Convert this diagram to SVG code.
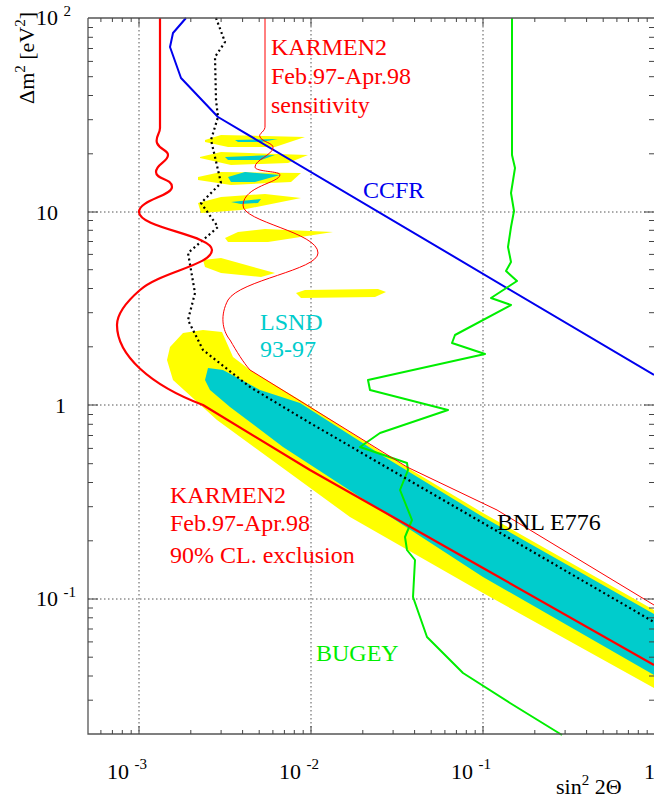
<svg xmlns="http://www.w3.org/2000/svg" width="654" height="800" viewBox="0 0 654 800">
<style>
text{font-family:"Liberation Serif","DejaVu Serif","Times New Roman",serif}
.t{font-size:24px}
.ax{font-size:22px;fill:#000}
.sup{font-size:15px}
.grid{stroke:#555;stroke-width:1;stroke-dasharray:1.5 2.5;fill:none}
.tk{stroke:#444;stroke-width:1}
.c{fill:none;stroke-linejoin:round}
</style>
<rect width="654" height="800" fill="#fff"/>
<g id="grid">
<path class="grid" d="M139 18V734M311 18V734M483 18V734M88 212H654M88 405H654M88 599H654"/>
</g>
<g id="lsnd">
<path fill="#ffff00" d="M170 347L183 333L203 330L222 332L233 357L250 370L300 400L383 453L483 513L654 610L654 688L483 593L350 517L217 420L173 380L167 360Z"/>
<path fill="#00cccc" d="M208 368L223 370L260 390L300 403L383 456L483 517L654 614L654 675L483 577L283 447L230 407L210 390L205 380Z"/>
<path fill="#ffff00" d="M205 140L221 135L305 137L275 147L228 147L205 142Z"/>
<path fill="#00cccc" d="M235 140L278 139L261 142L238 142Z"/>
<path fill="#ffff00" d="M200 157L221 152L308 155L288 163L231 165L200 158Z"/>
<path fill="#00cccc" d="M225 157L275 155L261 160L228 160Z"/>
<path fill="#ffff00" d="M198 177L221 172L301 173L291 182L231 185L198 180Z"/>
<path fill="#00cccc" d="M228 177L245 172L280 175L255 182L231 182Z"/>
<path fill="#ffff00" d="M198 203L221 197L265 194L301 198L241 210L201 213Z"/>
<path fill="#00cccc" d="M231 202L261 199L258 203L241 204Z"/>
<path fill="#ffff00" d="M225 238L238 232L265 229L333 232L268 242L228 242Z"/>
<path fill="#ffff00" d="M203 260L221 258L275 273L261 277L221 273L205 267Z"/>
<path fill="#ffff00" d="M296 293L305 290L378 289L386 292L375 297L301 298Z"/>
</g>
<g id="curves">
<path id="ccfr" class="c" stroke="#0000ee" stroke-width="2" d="M186 18L173 33L170 47L181 78L218 117L654 375"/>
<path id="bugey" class="c" stroke="#00ee00" stroke-width="2" d="M512 18L512 155L515 168L511 193L514 211L511 227L508 247L511 262L506 271L517 281L491 298L511 305L455 335L452 343L485 354L368 380L370 390L448 410L380 433L360 447L407 463L408 470L400 490L412 520L405 537L407 550L415 560L413 597L427 637L463 673L510 703L562 735"/>
<path id="bnl" class="c" stroke="#000" stroke-width="2.2" stroke-dasharray="2 3" d="M216 18L225 42L215 57L216 100L218 117L211 140L215 157L221 183L201 203L218 227L188 253L195 293L188 320L203 350L250 387L310 423L483 523L654 622"/>
<path id="sens" class="c" stroke="#ff0000" stroke-width="1" d="M265 18L265 125C266 132 258 133 260 137C262 142 274 143 273 148C272 155 255 160 255 167C255 172 281 171 280 175C279 183 244 186 243 205C242 222 318 232 318 253C318 270 240 280 228 300C220 315 222 330 230 340C237 352 243 362 250 370L407 467L497 510L654 605"/>
<path id="excl" class="c" stroke="#ff0000" stroke-width="2.2" d="M160 18L160 128C160 134 155 137 157 143C160 150 168 150 168 155C168 162 156 164 156 172C156 180 172 178 172 187C172 196 139 200 139 212C139 228 212 235 212 250C212 265 160 272 140 290C125 303 117 315 117 325C117 355 150 385 203 405L310 470L483 568L654 665"/>
</g>
<g id="axes">
<path fill="none" stroke="#555" stroke-width="1.3" d="M88 18H654M88 18V734H654"/>
<path class="tk" d="M139 734v-8M311 734v-8M483 734v-8M139 18v8M311 18v8M483 18v8M88 212h10M88 405h10M88 599h10M654 212h-10M654 405h-10M654 599h-10"/>
<path class="tk" d="M100.9 734v-4M112.4 734v-4M122.3 734v-4M131.2 734v-4M190.8 734v-4M221.1 734v-4M242.6 734v-4M259.2 734v-4M272.9 734v-4M284.4 734v-4M294.3 734v-4M303.2 734v-4M362.8 734v-4M393.1 734v-4M414.6 734v-4M431.2 734v-4M444.9 734v-4M456.4 734v-4M466.3 734v-4M475.2 734v-4M534.8 734v-4M565.1 734v-4M586.6 734v-4M603.2 734v-4M616.9 734v-4M628.4 734v-4M638.3 734v-4M647.2 734v-4
M100.9 18v4M112.4 18v4M122.3 18v4M131.2 18v4M190.8 18v4M221.1 18v4M242.6 18v4M259.2 18v4M272.9 18v4M284.4 18v4M294.3 18v4M303.2 18v4M362.8 18v4M393.1 18v4M414.6 18v4M431.2 18v4M444.9 18v4M456.4 18v4M466.3 18v4M475.2 18v4M534.8 18v4M565.1 18v4M586.6 18v4M603.2 18v4M616.9 18v4M628.4 18v4M638.3 18v4M647.2 18v4"/>
<path class="tk" d="M88 27.5h5M88 37.3h5M88 48.5h5M88 61.4h5M88 76.7h5M88 95.5h5M88 119.7h5M88 153.8h5M88 220.5h5M88 230.3h5M88 241.5h5M88 254.4h5M88 269.7h5M88 288.5h5M88 312.7h5M88 346.8h5M88 414.5h5M88 424.3h5M88 435.5h5M88 448.4h5M88 463.7h5M88 482.5h5M88 506.7h5M88 540.8h5M88 608h5M88 617.8h5M88 629h5M88 641.9h5M88 657.2h5M88 676h5M88 700.2h5
M654 27.5h-5M654 37.3h-5M654 48.5h-5M654 61.4h-5M654 76.7h-5M654 95.5h-5M654 119.7h-5M654 153.8h-5M654 220.5h-5M654 230.3h-5M654 241.5h-5M654 254.4h-5M654 269.7h-5M654 288.5h-5M654 312.7h-5M654 346.8h-5M654 414.5h-5M654 424.3h-5M654 435.5h-5M654 448.4h-5M654 463.7h-5M654 482.5h-5M654 506.7h-5M654 540.8h-5M654 608h-5M654 617.8h-5M654 629h-5M654 641.9h-5M654 657.2h-5M654 676h-5M654 700.2h-5"/>
<text class="ax" x="36" y="25">10 <tspan class="sup" dy="-9">2</tspan></text>
<text class="ax" x="36" y="220">10</text>
<text class="ax" x="55" y="413">1</text>
<text class="ax" x="36" y="606">10 <tspan class="sup" dy="-9">-1</tspan></text>
<text class="ax" x="107" y="779">10 <tspan class="sup" dy="-10">-3</tspan></text>
<text class="ax" x="279" y="779">10 <tspan class="sup" dy="-10">-2</tspan></text>
<text class="ax" x="451" y="779">10 <tspan class="sup" dy="-10">-1</tspan></text>
<text class="ax" x="644" y="779">1</text>
<text class="ax" x="556" y="794">sin<tspan class="sup" dy="-9">2</tspan><tspan dy="9"> 2Θ</tspan></text>
<text class="ax" transform="translate(34 104) rotate(-90)">Δm<tspan class="sup" dy="-9">2</tspan><tspan dy="9"> [eV</tspan><tspan class="sup" dy="-9">2</tspan><tspan dy="9">]</tspan></text>
</g>
<g id="labels">
<text class="t" fill="#ff0000" x="271" y="55">KARMEN2</text>
<text class="t" fill="#ff0000" x="271" y="84">Feb.97-Apr.98</text>
<text class="t" fill="#ff0000" x="271" y="113">sensitivity</text>
<text class="t" fill="#0000ee" x="363" y="198">CCFR</text>
<text class="t" fill="#00cccc" x="260" y="330">LSND</text>
<text class="t" fill="#00cccc" x="260" y="357">93-97</text>
<text class="t" fill="#ff0000" x="170" y="503">KARMEN2</text>
<text class="t" fill="#ff0000" x="170" y="531">Feb.97-Apr.98</text>
<text class="t" fill="#ff0000" x="170" y="563">90% CL. exclusion</text>
<text class="t" fill="#000" x="497" y="530">BNL E776</text>
<text class="t" fill="#00ee00" x="316" y="661">BUGEY</text>
</g>
</svg>
